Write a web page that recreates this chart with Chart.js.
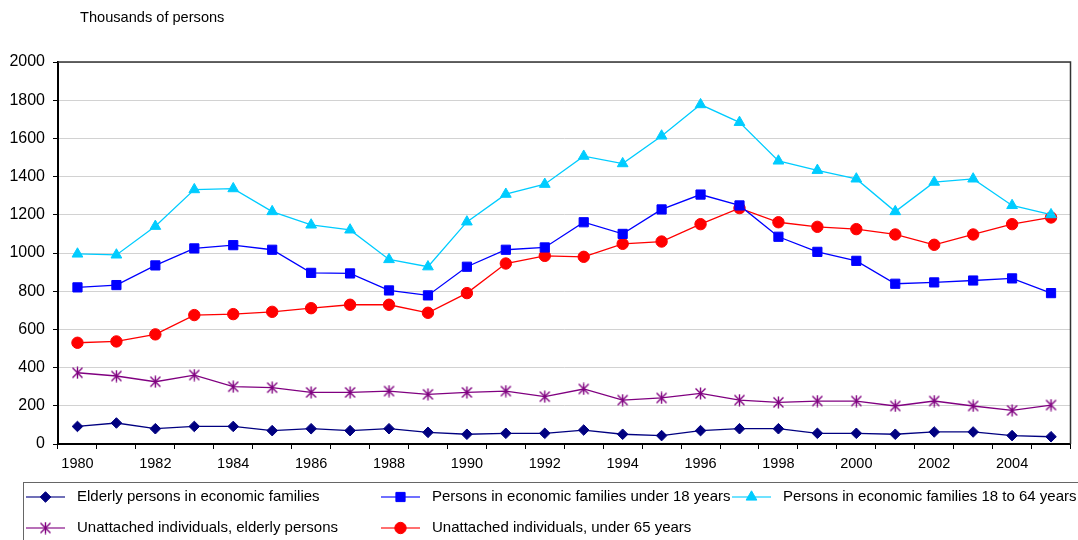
<!DOCTYPE html>
<html>
<head>
<meta charset="utf-8">
<script src="https://cdn.jsdelivr.net/npm/chart.js@4/dist/chart.umd.min.js"></script>
<style>
  html, body { margin: 0; padding: 0; background: #ffffff; }
  #wrap { width: 1078px; height: 540px; position: relative; }
</style>
</head>
<body>
<div id="wrap"><canvas id="c" width="1078" height="540"></canvas></div>
<script>
const years = ['1980','1981','1982','1983','1984','1985','1986','1987','1988','1989','1990','1991','1992','1993','1994','1995','1996','1997','1998','1999','2000','2001','2002','2003','2004','2005'];

const elderlyFamilies = [92,110,80,92,92,70,80,70,80,61,51,56,56,73,51,44,70,80,80,56,56,51,63,63,44,38];
const under18Families = [820,832,935,1024,1041,1017,896,893,804,778,928,1017,1029,1161,1100,1228,1306,1249,1085,1006,959,839,846,856,867,790];
const age18to64Families = [995,990,1140,1332,1337,1217,1147,1121,966,928,1163,1308,1360,1507,1468,1613,1777,1684,1482,1433,1388,1217,1371,1388,1249,1201];
const unattachedElderly = [373,356,326,361,300,295,270,270,277,260,270,277,248,288,230,241,265,230,218,225,225,199,225,199,176,204];
const unattachedUnder65 = [530,537,574,675,680,692,711,729,729,687,790,945,985,980,1048,1060,1151,1235,1161,1137,1125,1097,1043,1097,1151,1186];

const seriesLabels = [
  'Elderly persons in economic families',
  'Persons in economic families under 18 years',
  'Persons in economic families 18 to 64 years',
  'Unattached individuals, elderly persons',
  'Unattached individuals, under 65 years'
];
const yTicks = [0,200,400,600,800,1000,1200,1400,1600,1800,2000];
const yTitle = 'Thousands of persons';

const FONT = '"Liberation Sans", Arial, Helvetica, sans-serif';

// asterisk marker
function makeStar(color) {
  const c = document.createElement('canvas');
  c.width = 13; c.height = 13;
  const g = c.getContext('2d');
  g.strokeStyle = color; g.lineWidth = 1.4; g.lineCap = 'butt';
  g.beginPath();
  g.moveTo(1.5,1.5); g.lineTo(11.5,11.5);
  g.moveTo(11.5,1.5); g.lineTo(1.5,11.5);
  g.moveTo(6.5,0.5); g.lineTo(6.5,12.5);
  g.stroke();
  return c;
}
const starImg = makeStar('#800080');

function ds(label, data, color, style, radius) {
  return {
    label, data,
    borderColor: color, backgroundColor: color,
    borderWidth: 1.3,
    pointStyle: style, pointRadius: radius, pointHoverRadius: radius,
    pointBorderColor: color, pointBackgroundColor: color, pointBorderWidth: 1,
    tension: 0, fill: false
  };
}

const datasets = [
  ds(seriesLabels[0], elderlyFamilies, '#000080', 'rectRot', 5.3),
  ds(seriesLabels[1], under18Families, '#0000FF', 'rect', 6.5),
  ds(seriesLabels[2], age18to64Families, '#00CCFF', 'triangle', 6.2),
  ds(seriesLabels[3], unattachedElderly, '#800080', starImg, 6),
  ds(seriesLabels[4], unattachedUnder65, '#FF0000', 'circle', 5.7)
];

const legendLayout = [
  {col: 0, row: 0}, {col: 1, row: 0}, {col: 2, row: 0},
  {col: 0, row: 1}, {col: 1, row: 1}
];
const legendCols = [26, 381, 732];
const legendRows = [497, 528];

const framePlugin = {
  id: 'frame',
  afterDraw(chart) {
    const ctx = chart.ctx, a = chart.chartArea;
    ctx.save();
    // top and right border
    ctx.strokeStyle = '#333333';
    ctx.lineWidth = 1.5;
    ctx.beginPath();
    ctx.moveTo(a.left, a.top);
    ctx.lineTo(a.right, a.top);
    ctx.lineTo(a.right, a.bottom);
    ctx.stroke();
    // title
    ctx.fillStyle = '#000';
    ctx.font = '14.6px ' + FONT;
    ctx.textBaseline = 'middle';
    ctx.textAlign = 'left';
    ctx.fillText(yTitle, 80, 18);
    // legend box
    ctx.strokeStyle = '#666666';
    ctx.lineWidth = 1;
    ctx.strokeRect(23.5, 482.5, 1100, 80);
    ctx.font = '15px ' + FONT;
    chart.data.datasets.forEach((d, i) => {
      const p = legendLayout[i];
      const x0 = legendCols[p.col], y = legendRows[p.row];
      ctx.save();
      ctx.globalAlpha = 0.75;
      ctx.strokeStyle = d.borderColor;
      ctx.lineWidth = 1.6;
      ctx.beginPath();
      ctx.moveTo(x0, y); ctx.lineTo(x0 + 39, y);
      ctx.stroke();
      ctx.restore();
      ctx.fillStyle = d.borderColor;
      ctx.strokeStyle = d.borderColor;
      ctx.lineWidth = 1;
      Chart.helpers.drawPoint(ctx, {
        pointStyle: d.pointStyle, radius: d.pointRadius, rotation: 0,
        borderWidth: 1
      }, x0 + 19.5, y);
      ctx.fillStyle = '#000';
      ctx.fillText(d.label, x0 + 51, y);
    });
    ctx.restore();
  }
};

new Chart(document.getElementById('c'), {
  type: 'line',
  data: { labels: years, datasets },
  options: {
    responsive: false,
    animation: false,
    layout: { padding: { left: 0, top: 62, right: 3, bottom: 0 } },
    plugins: { legend: { display: false }, title: { display: false }, tooltip: { enabled: false } },
    scales: {
      x: {
        type: 'category',
        offset: true,
        grid: { offset: true, drawOnChartArea: false, drawTicks: true, tickLength: 5, tickColor: '#000', lineWidth: 1 },
        border: { color: '#000', width: 2 },
        ticks: {
          autoSkip: false, maxRotation: 0, minRotation: 0, padding: 6,
          color: '#000', font: { family: FONT, size: 14.5 },
          callback: function(v, i) { const y = this.getLabelForValue(v); return (i % 2 === 0) ? y : ''; }
        },
        afterFit(scale) { scale.height = 96; }
      },
      y: {
        min: 0, max: 2000,
        afterBuildTicks(scale) { scale.ticks = yTicks.map(v => ({ value: v })); },
        grid: { color: '#d2d2d2', lineWidth: 1, drawTicks: true, tickLength: 5, tickColor: '#000' },
        border: { color: '#000', width: 2 },
        ticks: { padding: 8, color: '#000', font: { family: FONT, size: 16 }, callback: (v) => String(v) },
        afterFit(scale) { scale.width = 58; }
      }
    }
  },
  plugins: [framePlugin]
});
</script>
</body>
</html>
